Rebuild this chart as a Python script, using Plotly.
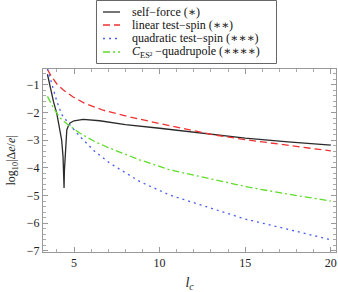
import plotly.graph_objects as go

# self-force (*)
sf_x = [3.45, 3.6, 3.8, 4.0, 4.15, 4.28, 4.36, 4.40, 4.42, 4.44, 4.48, 4.53, 4.58, 4.68, 4.77, 5.0, 5.54, 6.5, 8.0, 10.0, 12.0, 13.46, 15.0, 17.5, 20.0]
sf_y = [-0.62, -1.05, -1.6, -2.05, -2.5, -3.0, -3.6, -4.2, -4.73, -4.1, -3.5, -2.95, -2.63, -2.47, -2.38, -2.3, -2.25, -2.3, -2.44, -2.57, -2.72, -2.83, -2.93, -3.06, -3.18]

# linear test-spin (**)
lin_x = [3.45, 3.7, 4.0, 4.36, 4.95, 5.6, 6.7, 8.3, 10.0, 11.5, 13.07, 15.0, 17.5, 20.0]
lin_y = [-0.45, -0.72, -0.97, -1.18, -1.44, -1.66, -1.92, -2.17, -2.4, -2.6, -2.8, -2.98, -3.18, -3.39]

# quadratic test-spin (***)
quad_x = [3.45, 3.7, 4.0, 4.29, 4.76, 5.35, 6.2, 7.09, 8.83, 10.57, 12.3, 13.27, 15.0, 17.5, 20.0]
quad_y = [-0.42, -1.0, -1.6, -2.08, -2.45, -2.87, -3.4, -3.83, -4.49, -4.98, -5.33, -5.52, -5.85, -6.22, -6.6]

# C_ES^2-quadrupole (****)
ces_x = [3.45, 3.8, 4.19, 4.6, 5.35, 6.2, 7.09, 8.83, 10.57, 12.3, 13.46, 15.2, 17.5, 20.0]
ces_y = [-1.42, -1.84, -2.2, -2.42, -2.75, -3.05, -3.29, -3.71, -4.07, -4.3, -4.47, -4.7, -4.95, -5.2]

x_ticks = [5, 10, 15, 20]
y_ticks = [-1, -2, -3, -4, -5, -6, -7]

names = ["self\u2212force (\u2217)",
         "linear test\u2212spin (\u2217\u2217)",
         "quadratic test\u2212spin (\u2217\u2217\u2217)",
         "<i>C</i><sub>ES\u00b2</sub> \u2212quadrupole (\u2217\u2217\u2217\u2217)"]

SERIF = "Times New Roman, Liberation Serif, DejaVu Serif, serif"

styles = [dict(color="#2a2a2a", width=1.3),
          dict(color="#f03030", width=1.3, dash="7px,4px"),
          dict(color="#4a5cf5", width=1.3, dash="2px,4px"),
          dict(color="#5edc2a", width=1.3, dash="7px,3px,2px,3px")]

fig = go.Figure()
for xs, ys, nm, st in zip([sf_x, lin_x, quad_x, ces_x], [sf_y, lin_y, quad_y, ces_y], names, styles):
    fig.add_trace(go.Scatter(x=xs, y=ys, mode="lines", name=nm, line=st, showlegend=False,
                             hoverinfo="skip"))

axis_common = dict(showgrid=False, zeroline=False, showline=True, linecolor="#999999",
                   linewidth=1, mirror="allticks", ticks="inside", ticklen=5,
                   tickcolor="#999999", tickfont=dict(family=SERIF, size=12, color="#222222"),
                   automargin=False)

fig.update_xaxes(range=[3.19, 20.3], tickvals=x_ticks,
                 minor=dict(dtick=1, ticks="inside", ticklen=3, tickcolor="#aaaaaa"),
                 title=dict(text="<i>l<sub>c</sub></i>", font=dict(family=SERIF, size=14, color="#222222"), standoff=10),
                 **axis_common)
fig.update_yaxes(range=[-7.04, -0.43], tickvals=y_ticks,
                 minor=dict(dtick=0.2, ticks="inside", ticklen=3, tickcolor="#aaaaaa"),
                 title=dict(text="log<sub>10</sub>|\u0394<i>e</i>/<i>e</i>|", font=dict(family=SERIF, size=12, color="#222222"), standoff=8),
                 **axis_common)

# manual legend box above the plot (paper coordinates, pixel-aligned)
fig.add_shape(type="rect", xref="paper", yref="paper",
              x0=0.18259, x1=0.79693, y0=1.03005, y1=1.37432,
              line=dict(color="#666666", width=1), fillcolor="rgba(0,0,0,0)", layer="above")
row_y = [1.3115, 1.2404, 1.1667, 1.0929]
for ry, nm, st in zip(row_y, names, styles):
    fig.add_shape(type="line", xref="paper", yref="paper", x0=0.2048, x1=0.2628, y0=ry, y1=ry,
                  line=st)
    fig.add_annotation(xref="paper", yref="paper", x=0.2969, y=ry, text=nm, showarrow=False,
                       xanchor="left", yanchor="middle",
                       font=dict(family=SERIF, size=12, color="#111111"))

fig.update_layout(
    width=338, height=292,
    margin=dict(l=43, r=2, t=69, b=40),
    plot_bgcolor="white", paper_bgcolor="white",
    font=dict(family=SERIF),
    showlegend=False,
    hovermode=False,
)

fig.write_html("out.html", config={"displayModeBar": False},
               post_script="document.body.style.margin='0px';")
